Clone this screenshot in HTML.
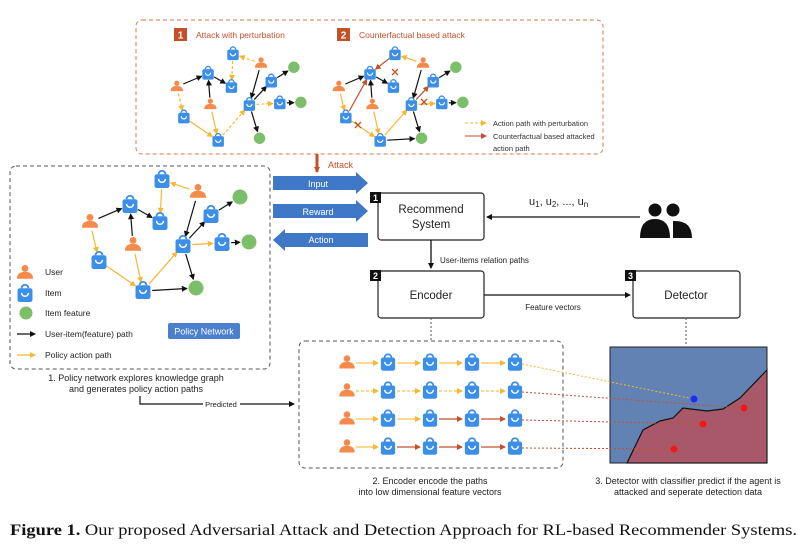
<!DOCTYPE html>
<html><head><meta charset="utf-8"><style>
html,body{margin:0;padding:0;background:#fff;}
svg{display:block;font-family:"Liberation Sans",sans-serif;}
</style></head><body>
<svg id="s" width="802" height="547" viewBox="0 0 802 547" xmlns="http://www.w3.org/2000/svg">
<defs>
<marker id="mk" markerWidth="6" markerHeight="6" refX="5" refY="3" orient="auto" markerUnits="userSpaceOnUse"><path d="M0,0 L6,3 L0,6z" fill="#111"/></marker>
<marker id="my" markerWidth="6" markerHeight="6" refX="5" refY="3" orient="auto" markerUnits="userSpaceOnUse"><path d="M0,0 L6,3 L0,6z" fill="#f7b733"/></marker>
<marker id="mr" markerWidth="6" markerHeight="6" refX="5" refY="3" orient="auto" markerUnits="userSpaceOnUse"><path d="M0,0 L6,3 L0,6z" fill="#c4502a"/></marker>
<g id="item"><path d="M-3,-5 a3,3 0 0 1 6,0" fill="none" stroke="#3b8fe8" stroke-width="1.6"/><rect x="-6.5" y="-5" width="13" height="12" rx="2" fill="#3b8fe8"/><path d="M-3,-1 a3,3 0 0 0 6,0" fill="none" stroke="#fff" stroke-width="1.3"/></g>
<g id="user"><circle cx="0" cy="-4" r="3" fill="#f58a4b"/><path d="M-7,5 Q-7,-1 0,-1 Q7,-1 7,5z" fill="#f58a4b"/></g>
</defs>

<rect x="136" y="20" width="467" height="134" rx="6" fill="none" stroke="#d9794f" stroke-dasharray="4,3"/>
<rect x="174" y="28" width="13" height="13" fill="#c4502a"/><text x="180.5" y="38.5" font-size="10" font-weight="bold" fill="#fff" text-anchor="middle">1</text>
<text x="196" y="38" font-size="8.5" fill="#c4502a">Attack with perturbation</text>
<rect x="337" y="28" width="13" height="13" fill="#c4502a"/><text x="343.5" y="38.5" font-size="10" font-weight="bold" fill="#fff" text-anchor="middle">2</text>
<text x="359" y="38" font-size="8.5" fill="#c4502a">Counterfactual based attack</text>
<line x1="465" y1="123" x2="486" y2="123" stroke="#f7b733" stroke-dasharray="3,2" marker-end="url(#my)"/>
<text x="493" y="126" font-size="7.5" fill="#333">Action path with perturbation</text>
<line x1="465" y1="136" x2="486" y2="136" stroke="#c4502a" marker-end="url(#mr)"/>
<text x="493" y="139" font-size="7.5" fill="#333">Counterfactual based attacked</text>
<text x="493" y="151" font-size="7.5" fill="#333">action path</text>
<line x1="317" y1="154" x2="317" y2="172" stroke="#c4502a" stroke-width="3" marker-end="url(#mr)"/>
<text x="328" y="168" font-size="9" fill="#c4502a">Attack</text>

<rect x="10" y="166" width="260" height="203" rx="6" fill="none" stroke="#555" stroke-dasharray="4,3"/>
<g id="lg"></g>
<use href="#user" transform="translate(25,273) scale(1.15)"/>
<use href="#item" transform="translate(25,294) scale(1.15)"/>
<circle cx="26" cy="313" r="6.5" fill="#7cbf6a"/>
<line x1="17" y1="334" x2="35" y2="334" stroke="#111" stroke-width="1.3" marker-end="url(#mk)"/>
<line x1="17" y1="355" x2="35" y2="355" stroke="#f7b733" stroke-width="1.3" marker-end="url(#my)"/>
<g font-size="8.5" fill="#222"><text x="45" y="275">User</text><text x="45" y="296">Item</text><text x="45" y="316">Item feature</text><text x="45" y="337">User-item(feature) path</text><text x="45" y="358">Policy action path</text></g>
<rect x="168" y="323" width="72" height="16" rx="2" fill="#4a7fd0"/><text x="204" y="334.5" font-size="9" fill="#fff" text-anchor="middle">Policy Network</text>
<g font-size="9" fill="#222" text-anchor="middle"><text x="136" y="381">1. Policy network explores knowledge graph</text><text x="136" y="392">and generates policy action paths</text></g>
<path d="M140,396 V404 H294" fill="none" stroke="#111" stroke-width="1.2" marker-end="url(#mk)"/>
<rect x="203" y="399" width="37" height="10" fill="#fff"/><text x="221" y="407" font-size="7.5" fill="#222" text-anchor="middle">Predicted</text>

<path d="M273,176 H356 V172 L368,183 L356,194 V190 H273z" fill="#3f78c7"/>
<text x="318" y="187" font-size="9" fill="#fff" text-anchor="middle">Input</text>
<path d="M273,204 H356 V200 L368,211 L356,222 V218 H273z" fill="#3f78c7"/>
<text x="318" y="215" font-size="9" fill="#fff" text-anchor="middle">Reward</text>
<path d="M368,233 H285 V229 L273,240 L285,251 V247 H368z" fill="#3f78c7"/>
<text x="321" y="243" font-size="9" fill="#fff" text-anchor="middle">Action</text>

<g fill="#fff" stroke="#222" stroke-width="1.2">
<rect x="378" y="193" width="106" height="47" rx="3"/>
<rect x="378" y="271" width="106" height="47" rx="3"/>
<rect x="633" y="271" width="107" height="47" rx="3"/>
</g>
<g font-size="9" font-weight="bold" fill="#fff" text-anchor="middle">
<rect x="370" y="192" width="11" height="11" fill="#111"/><text x="375.5" y="201">1</text>
<rect x="370" y="270" width="11" height="11" fill="#111"/><text x="375.5" y="279">2</text>
<rect x="625" y="270" width="11" height="11" fill="#111"/><text x="630.5" y="279">3</text>
</g>
<g font-size="11.5" fill="#222" text-anchor="middle">
<text x="431" y="213">Recommend</text><text x="431" y="228">System</text>
<text x="431" y="299">Encoder</text><text x="686" y="299">Detector</text>
</g>
<line x1="640" y1="217" x2="487" y2="217" stroke="#111" stroke-width="1.3" marker-end="url(#mk)"/>
<text x="529" y="205" font-size="11" fill="#222">u<tspan font-size="8" dy="2">1</tspan><tspan dy="-2">, u</tspan><tspan font-size="8" dy="2">2</tspan><tspan dy="-2">, ..., u</tspan><tspan font-size="8" dy="2">n</tspan></text>
<g fill="#111"><circle cx="655" cy="210" r="6.5"/><circle cx="673" cy="210" r="6.5"/><path d="M640,238 Q640,219 655,219 Q670,219 670,238z"/><path d="M673,238 V221 Q692,220 692,238z"/></g>
<line x1="431" y1="240" x2="431" y2="268" stroke="#111" stroke-width="1.3" marker-end="url(#mk)"/>
<text x="440" y="263" font-size="8" fill="#222">User-items relation paths</text>
<line x1="484" y1="295" x2="630" y2="295" stroke="#111" stroke-width="1.3" marker-end="url(#mk)"/>
<text x="553" y="310" font-size="8" fill="#222" text-anchor="middle">Feature vectors</text>
<line x1="431" y1="318" x2="431" y2="341" stroke="#555" stroke-dasharray="2,2"/>
<line x1="686" y1="318" x2="686" y2="346" stroke="#555" stroke-dasharray="2,2"/>

<rect x="299" y="341" width="264" height="127" rx="6" fill="none" stroke="#555" stroke-dasharray="4,3"/>
<g id="enc"></g>
<g font-size="9" fill="#222" text-anchor="middle"><text x="430" y="484">2. Encoder encode the paths</text><text x="430" y="495">into low dimensional feature vectors</text>
<text x="688" y="484">3. Detector with classifier predict if the agent is</text><text x="688" y="495">attacked and seperate detection data</text></g>

<rect x="610" y="347" width="157" height="116" fill="#6282b3" stroke="#222"/>
<path d="M627,463 L643,430 L660,421 L673,418 L683,408 L707,411 L723,409 L740,398 L767,370 V463z" fill="#a85868" stroke="#111" stroke-width="1.2"/>
<rect x="610" y="347" width="157" height="116" fill="none" stroke="#222"/>
<g stroke-dasharray="2,2" stroke-width="1">
<line x1="522" y1="364" x2="694" y2="399" stroke="#f7b733"/>
<line x1="522" y1="392" x2="744" y2="408" stroke="#c4502a"/>
<line x1="522" y1="420" x2="703" y2="424" stroke="#c4502a"/>
<line x1="522" y1="448" x2="674" y2="449" stroke="#c4502a"/>
</g>
<circle cx="694" cy="399" r="3.5" fill="#1a2cff"/>
<circle cx="744" cy="408" r="3.5" fill="#ee1a1a"/>
<circle cx="703" cy="424" r="3.5" fill="#ee1a1a"/>
<circle cx="674" cy="449" r="3.5" fill="#ee1a1a"/>

<text x="10" y="535" font-family="Liberation Serif,serif" font-size="16" fill="#111" textLength="787" lengthAdjust="spacingAndGlyphs"><tspan font-weight="bold">Figure 1.</tspan>  Our proposed Adversarial Attack and Detection Approach for RL-based Recommender Systems.</text>

<g id="tg"></g>
</svg>
<script>
var NS="http://www.w3.org/2000/svg";
function el(p,t,a){var e=document.createElementNS(NS,t);for(var k in a)e.setAttribute(k,a[k]);p.appendChild(e);return e;}
function edge(p,a,b,c,dash,sh){var dx=b[0]-a[0],dy=b[1]-a[1],L=Math.hypot(dx,dy),s=sh||8;
 var col=c=='k'?'#111':c=='y'?'#f7b733':'#c4502a';
 el(p,'line',{x1:a[0]+dx/L*s,y1:a[1]+dy/L*s,x2:b[0]-dx/L*s,y2:b[1]-dy/L*s,stroke:col,'stroke-width':1.2,'stroke-dasharray':dash?'3,2':'none','marker-end':'url(#m'+c+')'});}
function draw(p,sc,ic,ox,oy,items,users,greens,edges){
 var T=function(q){return [q[0]*sc+ox,q[1]*sc+oy];};
 var nodes={};items.forEach(function(q,i){nodes['i'+i]=T(q);});users.forEach(function(q,i){nodes['u'+i]=T(q);});greens.forEach(function(q,i){nodes['g'+i]=T(q);});
 edges.forEach(function(e){edge(p,nodes[e[0]],nodes[e[1]],e[2],e[3],8*ic);});
 items.forEach(function(q){var t=T(q);el(p,'use',{href:'#item',transform:'translate('+t[0]+','+t[1]+') scale('+ic+')'});});
 users.forEach(function(q){var t=T(q);el(p,'use',{href:'#user',transform:'translate('+t[0]+','+t[1]+') scale('+ic+')'});});
 greens.forEach(function(q){var t=T(q);el(p,'circle',{cx:t[0],cy:t[1],r:6.5*ic,fill:'#7cbf6a'});});
}
var items=[[162,180],[130,205],[160,222],[211,215],[183,245],[222,243],[99,261],[143,291]];
var users=[[90,222],[133,245],[198,192]];
var greens=[[240,197],[249,242],[196,288]];
var E=[['u0','i1','k'],['i1','i2','k'],['u1','i1','k'],['u2','i0','y'],['i0','i2','y'],['u2','i4','k'],['i4','i3','k'],['i3','g0','k'],['i4','i5','y'],['i5','g1','k'],['i4','g2','k'],['u0','i6','y'],['i6','i7','y'],['u1','i7','y'],['i7','i4','y'],['i7','g2','k']];
draw(document.getElementById('lg'),1,1.15,0,0,items,users,greens,E);
var tg=document.getElementById('tg');
var E1=[['u0','i1','k'],['i1','i2','k'],['u1','i1','k'],['u2','i0','y',1],['i0','i2','y',1],['u2','i4','k'],['i4','i3','k'],['i3','g0','k'],['i4','i5','y',1],['i5','g1','k'],['i4','g2','k'],['u0','i6','y',1],['i6','i7','y'],['u1','i7','y'],['i7','i4','y',1]];
var E2=[['u0','i1','k'],['i1','i2','k'],['u1','i1','k'],['u2','i0','y'],['i0','i1','r'],['u2','i4','k'],['i4','i3','r'],['i3','g0','k'],['i4','i5','y'],['i5','g1','k'],['i4','g2','k'],['u0','i6','y'],['i6','i1','r'],['i6','i7','y'],['u1','i7','y'],['i7','i4','y'],['i7','g2','k']];
var s=0.78;
draw(tg,s,0.88,233-162*s,54-180*s,items,users,greens,E1);
draw(tg,s,0.88,395-162*s,54-180*s,items,users,greens,E2);
[[395,72],[424,102],[358,125]].forEach(function(c){el(tg,'path',{d:'M'+(c[0]-3)+','+(c[1]-3)+'l6,6m0,-6l-6,6',stroke:'#c4502a','stroke-width':1.3});});
var enc=document.getElementById('enc');
var xs=[347,388,430,472,515],ys=[363,391,419,447];
var rc=[['y','y','y','y'],['y','y','y','y'],['y','y','r','r'],['y','r','r','r']];
ys.forEach(function(y,r){
 for(var i=0;i<4;i++){var c=rc[r][i];el(enc,'line',{x1:xs[i]+9,y1:y,x2:xs[i+1]-10,y2:y,stroke:c=='y'?'#f7c04a':'#c4502a','stroke-width':1.2,'stroke-dasharray':r==1?'3,2':'none','marker-end':'url(#m'+c+')'});}
 el(enc,'use',{href:'#user',transform:'translate('+xs[0]+','+y+') scale(1.1)'});
 for(var i=1;i<5;i++)el(enc,'use',{href:'#item',transform:'translate('+xs[i]+','+y+') scale(1.1)'});
});
</script>
</body></html>
